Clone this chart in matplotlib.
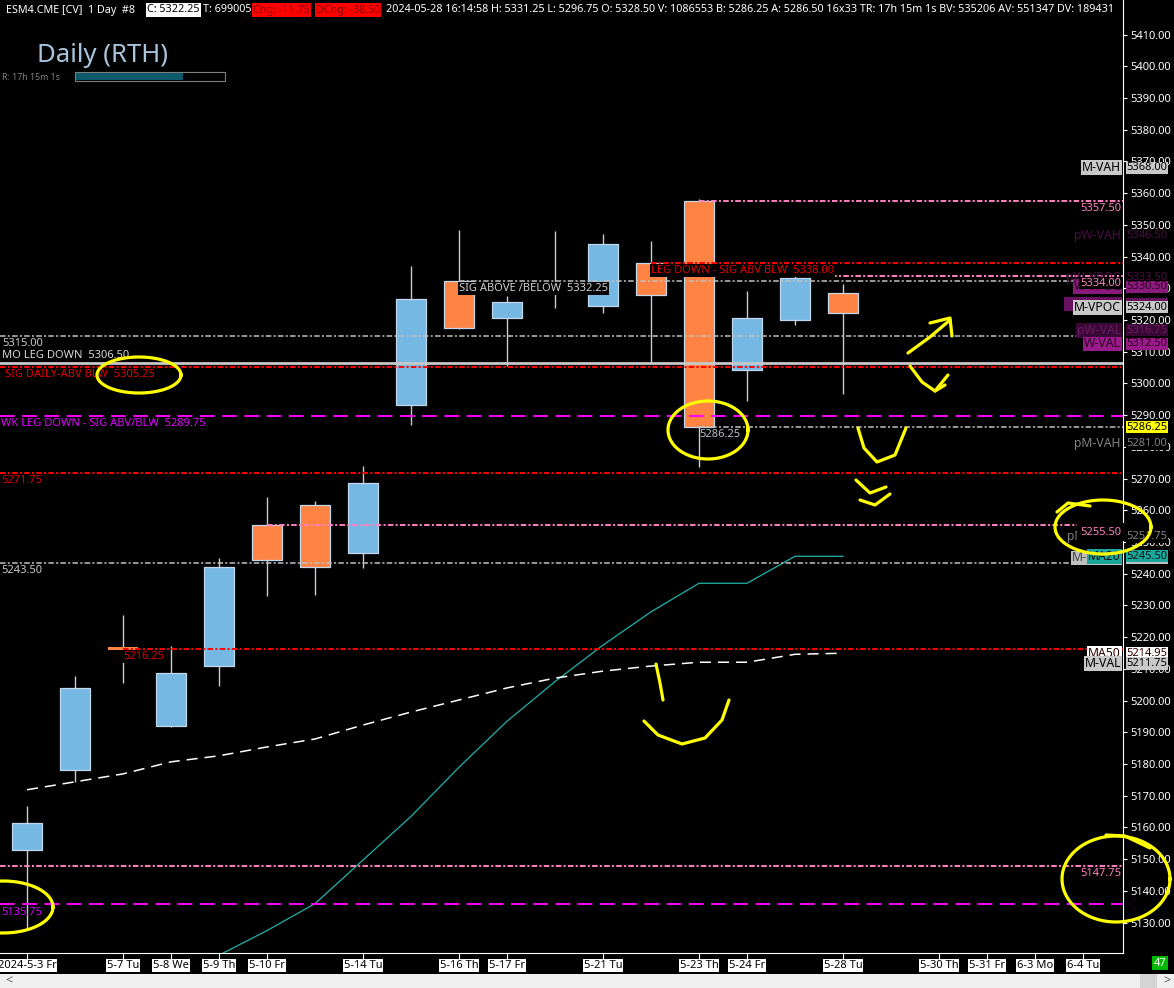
import matplotlib
matplotlib.use('Agg')
import matplotlib.pyplot as plt
import matplotlib.transforms as mtransforms
from matplotlib.patches import Rectangle
from matplotlib.lines import Line2D
from matplotlib.ticker import FormatStrFormatter
import numpy as np

plt.rcParams['font.family'] = ['Noto Sans', 'DejaVu Sans']
plt.rcParams['lines.scale_dashes'] = False

# daily RTH bars, index 0 = 2024-05-03
bar_dates = ['5-3', '5-6', '5-7', '5-8', '5-9', '5-10', '5-13', '5-14', '5-15', '5-16',
             '5-17', '5-20', '5-21', '5-22', '5-23', '5-24', '5-27', '5-28']
opens = [5153.00, 5178.25, 5216.50, 5192.00, 5211.00, 5255.50, 5261.75, 5246.50, 5293.25, 5332.25,
         5320.50, 5331.00, 5324.25, 5338.00, 5357.50, 5304.25, 5320.00, 5328.50]
highs = [5166.75, 5207.75, 5227.00, 5217.25, 5245.00, 5264.25, 5263.00, 5274.00, 5337.00, 5348.50,
         5327.50, 5348.00, 5347.25, 5345.00, 5358.25, 5329.25, 5334.00, 5331.25]
lows = [5127.75, 5174.50, 5205.50, 5191.75, 5204.50, 5233.00, 5233.25, 5241.75, 5287.00, 5317.00,
        5305.50, 5323.75, 5322.25, 5306.50, 5273.75, 5294.50, 5318.50, 5296.75]
closes = [5161.50, 5204.00, 5216.25, 5208.75, 5242.25, 5244.25, 5242.25, 5268.50, 5326.50, 5317.50,
          5325.75, 5330.00, 5344.00, 5328.00, 5286.25, 5320.50, 5333.25, 5322.25]

# moving averages
ma20 = [np.nan, np.nan, np.nan, np.nan, 5119.75, 5127.50, 5136.00, 5149.75, 5163.50, 5179.00,
        5193.50, 5206.00, 5217.50, 5228.00, 5237.00, 5237.00, 5245.50, 5245.50]
ma50 = [5171.90, 5174.40, 5176.90, 5180.70, 5182.60, 5185.40, 5187.90, 5192.30, 5196.40, 5200.20,
        5204.00, 5207.10, 5209.30, 5210.90, 5212.10, 5212.10, 5214.60, 5214.95]

# horizontal levels (start = bar index where the line begins, None = from left edge)
level_prices = [5357.50, 5338.00, 5334.00, 5332.25, 5315.00, 5306.50, 5305.25, 5289.75,
                5286.25, 5271.75, 5255.50, 5243.50, 5216.25, 5147.75, 5135.75]
level_kinds = ['pink', 'red', 'pink', 'gray', 'gray', 'solid', 'red', 'magenta',
               'gray', 'red', 'pink', 'gray', 'red', 'pink', 'magenta']
level_start = [14, 13, 16, 9, None, None, None, None, 14, None, 5, None, 2, None, None]

# profile tags on the right edge
tag_names = ['M-VAH', 'pW-VAH', 'W-VPOC', 'pW-VPOC', 'pW-VWAP', 'M-VPOC', 'pW-VAL', 'W-VAL',
             'pM-VAH', 'pM-VPOC', 'M-VWAP', 'MA20', 'MA50', 'M-VAL']
tag_prices = [5368.00, 5346.50, 5330.50, 5333.50, 5325.00, 5324.00, 5316.75, 5312.50,
              5281.00, 5251.75, 5245.00, 5245.50, 5214.95, 5211.75]

# x axis labels
xtick_bars = [0, 2, 3, 4, 5, 7, 9, 10, 12, 14, 15, 17, 19, 20, 21, 22]
xtick_labels = ['2024-5-3 Fr', '5-7 Tu', '5-8 We', '5-9 Th', '5-10 Fr', '5-14 Tu', '5-16 Th',
                '5-17 Fr', '5-21 Tu', '5-23 Th', '5-24 Fr', '5-28 Tu', '5-30 Th', '5-31 Fr',
                '6-3 Mo', '6-4 Tu']
ytick_values = np.arange(5130, 5411, 10)

W, H = 1174, 988
BLUE = '#76b8e4'
ORANGE = '#ff8444'
kind_color = {'pink': '#ff80c0', 'red': '#ff0000', 'gray': '#c0c0c0', 'solid': '#c8c8c8',
              'magenta': '#ff00ff'}
DASHDOT = (4.0, 1.6, 1.5, 1.6)

fig = plt.figure(figsize=(W / 100, H / 100), dpi=100, facecolor='black')
ax = fig.add_axes([0, 35 / H, 1123 / W, 953 / H])
ax.set_facecolor('black')
x_left = -27 / 48
x_right = (1123 - 27) / 48
ax.set_xlim(x_left, x_right)
ax.set_ylim(5410 - (953 - 34.5) / 3.172, 5410 + 34.5 / 3.172)


def fx(px):
    return px / W


def fy(py):
    return 1 - py / H


# candles
for i in range(len(opens)):
    o, h, l, c = opens[i], highs[i], lows[i], closes[i]
    ax.vlines(i, l, h, color='#c8ccd4', lw=1, zorder=2)
    col = BLUE if c >= o else ORANGE
    lo, hi = min(o, c), max(o, c)
    if hi - lo < 0.6:
        ax.add_patch(Rectangle((i - 0.3125, lo - 0.2), 0.625, 0.7, fc=col, ec='none', zorder=3))
    else:
        ax.add_patch(Rectangle((i - 0.3125, lo), 0.625, hi - lo, fc=col, ec='#c4d8ec',
                               lw=0.9, zorder=3))

xs = np.arange(len(opens))
ax.plot(xs, ma20, color='#20b2aa', lw=0.9, zorder=4)
ax.plot(xs, ma50, color='white', lw=1.1, dashes=(8, 5), zorder=4)

# level lines
for p, k, s in zip(level_prices, level_kinds, level_start):
    x0 = x_left if s is None else s
    if k == 'solid':
        ax.plot([x0, x_right], [p, p], color=kind_color[k], lw=2.0, zorder=5)
    elif k == 'magenta':
        ax.plot([x0, x_right], [p, p], color=kind_color[k], lw=1.4, dashes=(10.5, 5.5), zorder=5)
    else:
        lw = 1.1 if k == 'gray' else 1.4
        ax.plot([x0, x_right], [p, p], color=kind_color[k], lw=lw, dashes=DASHDOT, zorder=5)

FS = 8
TFS = 8.8


def below(text, x, price, color, ha='left', bg=None, dx=0):
    kw = {}
    if bg:
        kw['bbox'] = dict(boxstyle='square,pad=0.08', fc=bg, ec='none')
    ax.annotate(text, (x, price), xytext=(dx, -1.5), textcoords='offset points',
                ha=ha, va='top', color=color, fontsize=FS, zorder=8, annotation_clip=False, **kw)


# level labels
below('5315.00', x_left, 5315.00, '#c8c8c8', dx=1.5)
ax.annotate('MO LEG DOWN  5306.50', (x_left, 5306.50), xytext=(1.5, 1.5),
            textcoords='offset points', ha='left', va='bottom', color='#d8d8d8',
            fontsize=FS, zorder=8)
below('SIG DAILY-ABV BLW  5305.25', x_left, 5305.25, '#e00000', dx=3.5)
below('WK LEG DOWN - SIG ABV/BLW  5289.75', x_left, 5289.75, '#e000ff', dx=1)
below('5271.75', x_left, 5271.75, '#e00000', dx=1)
below('5243.50', x_left, 5243.50, '#c8c8c8', dx=1)
below('5216.25', 2, 5216.25, '#e00000', bg='black')
below('5135.75', x_left, 5135.75, '#d000ff', dx=1)
below('SIG ABOVE /BELOW  5332.25', 9, 5332.25, '#d0d0d0', bg='black')
below('LEG DOWN - SIG ABV BLW  5338.00', 13, 5338.00, '#e00000', bg='black')
below('5286.25', 14, 5286.25, '#b8c0c8', dx=0.5)

# right-edge tags
bt = mtransforms.blended_transform_factory(ax.transAxes, ax.transData)
in_style = {
    'M-VAH': ('black', '#c8c8c8'), 'pW-VAH': ('#4c0c44', 'black'),
    'W-VPOC': ('#2a0020', '#8a1a7c'), 'pW-VPOC': ('#4c0c44', None),
    'pW-VWAP': ('#6a1060', '#6a1060'), 'M-VPOC': ('black', '#c8c8c8'),
    'pW-VAL': ('#6a1a62', '#3a0834'), 'W-VAL': ('#2a0020', '#9a1a8a'),
    'pM-VAH': ('#808080', 'black'), 'pM-VPOC': ('#808080', 'black'),
    'M-VWAP': ('#404040', '#c0c0c0'), 'MA20': ('#101010', '#1aa89c'),
    'MA50': ('#300000', 'white'), 'M-VAL': ('black', '#c8c8c8'),
}


def pink_label(text, price, zz, pad=0.06):
    ax.annotate(text, (0.9982, price), xycoords=bt, xytext=(0, -1.5),
                textcoords='offset points', ha='right', va='top', color='#ff80c0',
                fontsize=FS, zorder=zz, annotation_clip=False,
                bbox=dict(boxstyle='square,pad=%g' % pad, fc='black', ec='none'))


z = 9
for name, p in zip(tag_names, tag_prices):
    fg, bg = in_style[name]
    kw = {}
    if bg:
        kw['bbox'] = dict(boxstyle='square,pad=0.06', fc=bg, ec='none')
    ax.text(0.9982, p, name, transform=bt, ha='right', va='center', color=fg,
            fontsize=TFS, zorder=z, clip_on=False, **kw)
    ax.text(1.0030, p, '%.2f' % p, transform=bt, ha='left', va='center', color=fg,
            fontsize=FS, zorder=z, clip_on=False, **kw)
    z += 0.1
    if name == 'pW-VPOC':
        # pink 5334.00 line label sits over the purple box
        pink_label('5334.00', 5334.00, z)
        z += 0.1
    if name == 'pM-VPOC':
        pink_label('5255.50', 5255.50, z, pad=0.3)
        z += 0.1

pink_label('5357.50', 5357.50, 8)
pink_label('5147.75', 5147.75, 8)
ax.text(1.0030, 5286.25, '5286.25', transform=bt, ha='left', va='center', color='black',
        fontsize=FS, zorder=z + 1, clip_on=False,
        bbox=dict(boxstyle='square,pad=0.06', fc='#ffff00', ec='none'))

# axes styling
for s in ['top', 'left']:
    ax.spines[s].set_visible(False)
ax.spines['right'].set_color('white')
ax.spines['bottom'].set_color('white')
ax.yaxis.tick_right()
ax.set_yticks(ytick_values)
ax.yaxis.set_major_formatter(FormatStrFormatter('%.2f'))
ax.tick_params(axis='y', colors='white', labelsize=FS, length=3, pad=2)
ax.set_xticks(xtick_bars)
ax.set_xticklabels(xtick_labels)
ax.tick_params(axis='x', colors='white', labelcolor='black', labelsize=FS, length=4, pad=1)
for lbl in ax.get_xticklabels():
    lbl.set_bbox(dict(boxstyle='square,pad=0.08', fc='white', ec='none'))

# header line
hy = fy(10)
HFS = 7.75
fig.text(fx(6), hy, 'ESM4.CME [CV]  1 Day  #8', color='white', fontsize=HFS, va='center')
fig.text(fx(147), hy, 'C: 5322.25', color='black', fontsize=HFS, va='center',
         bbox=dict(boxstyle='square,pad=0.1', fc='white', ec='none'))
fig.text(fx(203), hy, 'T: 699005', color='white', fontsize=HFS, va='center')
fig.text(fx(253), hy, 'Chg: -11.75', color='#8b0000', fontsize=HFS, va='center',
         bbox=dict(boxstyle='square,pad=0.1', fc='#ff0000', ec='none'))
fig.text(fx(316), hy, 'DChg: -38.50', color='#8b0000', fontsize=HFS, va='center',
         bbox=dict(boxstyle='square,pad=0.1', fc='#ff0000', ec='none'))
fig.text(fx(386), hy, '2024-05-28 16:14:58 H: 5331.25 L: 5296.75 O: 5328.50 V: 1086553 '
         'B: 5286.25 A: 5286.50 16x33 TR: 17h 15m 1s BV: 535206 AV: 551347 DV: 189431',
         color='white', fontsize=HFS, va='center')

fig.text(fx(37), fy(56), 'Daily (RTH)', color='#a8c4dc', fontsize=18.5, va='center')
fig.text(fx(2), fy(78), 'R: 17h 15m 1s', color='#808080', fontsize=6.3, va='center')
fig.patches.append(Rectangle((fx(75), fy(81)), fx(150), 9 / H, transform=fig.transFigure,
                             fc='black', ec='#808080', lw=0.8))
fig.patches.append(Rectangle((fx(76), fy(80)), fx(107), 7 / H, transform=fig.transFigure,
                             fc='#0e5a6a', ec='none'))

# bottom scroll bar and bar counter
fig.patches.append(Rectangle((0, 0), 1, 14 / H, transform=fig.transFigure,
                             fc='#f0f0f0', ec='none'))
fig.patches.append(Rectangle((fx(1140), 0), fx(17), 14 / H, transform=fig.transFigure,
                             fc='#d4d4d4', ec='none'))
fig.text(fx(5), fy(981), '<', color='#606060', fontsize=9, va='center', weight='bold')
fig.text(fx(1163), fy(981), '>', color='#606060', fontsize=9, va='center', weight='bold')
fig.text(fx(1154), fy(963), '47', color='white', fontsize=FS, va='center',
         bbox=dict(boxstyle='square,pad=0.15', fc='#00b800', ec='none'))

# yellow hand-drawn marks (pixel coords)
ellipses = [(139, 375, 84, 36), (708, 430, 80, 58), (1103, 527, 96, 54),
            (1116, 879, 108, 86), (3, 907, 100, 52)]
strokes = [
    [(1057, 512), (1068, 503), (1090, 506)],
    [(1106, 835), (1125, 836), (1150, 848)],
    [(656, 664), (660, 683), (663, 700)],
    [(644, 721), (658, 735), (682, 744), (705, 738), (722, 720), (729, 700)],
    [(908, 353), (930, 337), (950, 320)],
    [(930, 323), (950, 318), (952, 336)],
    [(910, 366), (922, 382), (935, 391), (945, 385)],
    [(935, 391), (948, 375)],
    [(858, 428), (864, 448), (877, 462), (895, 455), (906, 428)],
    [(856, 480), (870, 493), (886, 487)],
    [(860, 500), (875, 505), (890, 494)],
]
t = np.linspace(0, 2 * np.pi, 80)
for cx, cy, ew, eh in ellipses:
    px = cx + ew / 2 * np.cos(t)
    py = cy + eh / 2 * np.sin(t)
    fig.lines.append(Line2D(px / W, 1 - py / H, transform=fig.transFigure,
                            color='#ffff00', lw=2.3, zorder=20))
for st in strokes:
    pts = np.array(st, dtype=float)
    fig.lines.append(Line2D(pts[:, 0] / W, 1 - pts[:, 1] / H, transform=fig.transFigure,
                            color='#ffff00', lw=2.3, zorder=20, solid_capstyle='round'))

fig.savefig('out.png', dpi=100, facecolor='black')
